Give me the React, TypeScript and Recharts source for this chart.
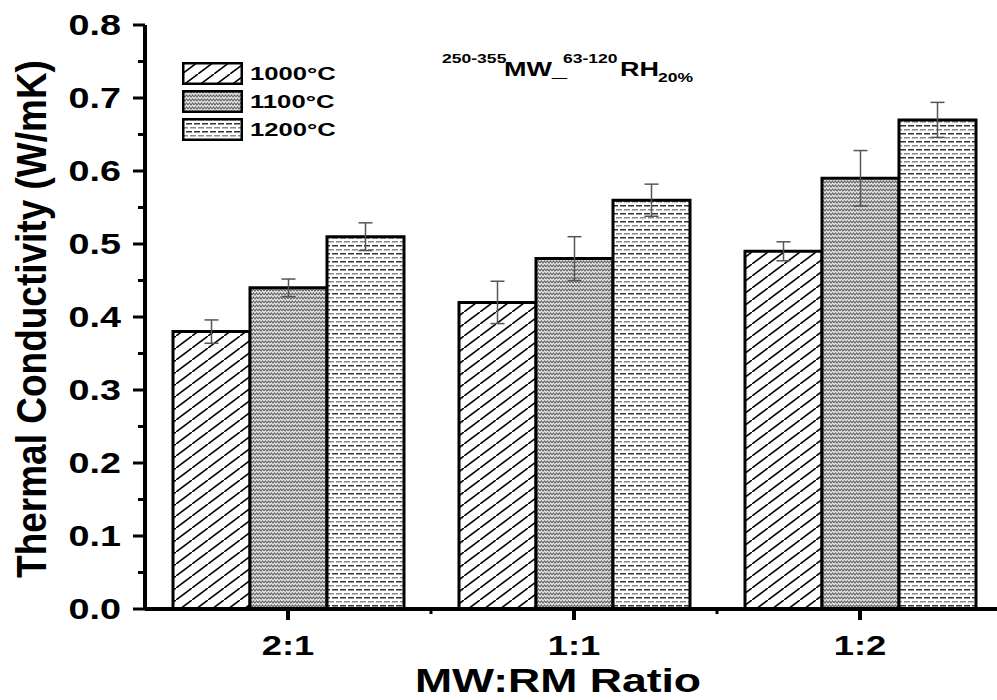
import { Bar, BarChart, ErrorBar, Label, Legend, XAxis, YAxis } from 'recharts'

const RATIOS = ['2:1', '1:1', '1:2']
const K_1000 = [0.38, 0.42, 0.49]
const K_1100 = [0.44, 0.48, 0.59]
const K_1200 = [0.51, 0.56, 0.67]
const ERR_1000 = [0.016, 0.029, 0.013]
const ERR_1100 = [0.012, 0.03, 0.038]
const ERR_1200 = [0.019, 0.022, 0.024]
const Y_TICKS = [0, 0.05, 0.1, 0.15, 0.2, 0.25, 0.3, 0.35, 0.4, 0.45, 0.5, 0.55, 0.6, 0.65, 0.7, 0.75, 0.8]

const FONT = '"Liberation Sans", Arial, sans-serif'
const SX = 1.35 // the source image is stretched sideways

const data = RATIOS.map((ratio, i) => ({
    ratio,
    k1000: K_1000[i],
    k1100: K_1100[i],
    k1200: K_1200[i],
    e1000: ERR_1000[i],
    e1100: ERR_1100[i],
    e1200: ERR_1200[i],
}))

const PATTERN_OF: Record<string, string> = {
    k1000: 'pat1000',
    k1100: 'pat1100',
    k1200: 'pat1200',
}

function YTick(props: any) {
    const { x, y, payload } = props
    const major = Math.round(payload.value * 100) % 10 === 0
    return (
        <g>
            <line x1={x - (major ? 12 : 7)} x2={x} y1={y} y2={y} stroke="#000" strokeWidth={3} />
            {major && (
                <text
                    transform={`translate(${x - 24},${y}) scale(1.3,1)`}
                    textAnchor="end"
                    dominantBaseline="central"
                    fontFamily={FONT}
                    fontWeight={700}
                    fontSize={29}
                    fill="#000"
                >
                    {payload.value.toFixed(1)}
                </text>
            )}
        </g>
    )
}

function XTick(props: any) {
    const { x, y, payload } = props
    const half = payload.offset || 0
    return (
        <g>
            <line x1={x} x2={x} y1={y} y2={y + 11} stroke="#000" strokeWidth={4} />
            {half > 0 && (
                <line x1={x + half} x2={x + half} y1={y} y2={y + 5} stroke="#000" strokeWidth={3} />
            )}
            <text
                transform={`translate(${x},${y + 46}) scale(${SX},1)`}
                textAnchor="middle"
                fontFamily={FONT}
                fontWeight={700}
                fontSize={27}
                fill="#000"
            >
                {payload.value}
            </text>
        </g>
    )
}

function YTitle(props: any) {
    const vb = props.viewBox
    const cx = vb.x + 31
    const cy = vb.y + vb.height / 2 + 2
    return (
        <text
            transform={`translate(${cx},${cy}) scale(1.15,1) rotate(-90)`}
            textAnchor="middle"
            dominantBaseline="central"
            fontFamily={FONT}
            fontWeight={700}
            fontSize={37}
            fill="#000"
        >
            Thermal Conductivity (W/mK)
        </text>
    )
}

function XTitle(props: any) {
    const vb = props.viewBox
    return (
        <text
            transform={`translate(${vb.x + vb.width / 2 - 16},${vb.y + 83}) scale(${SX},1)`}
            textAnchor="middle"
            fontFamily={FONT}
            fontWeight={700}
            fontSize={33}
            fill="#000"
        >
            MW:RM Ratio
        </text>
    )
}

function LegendBox(props: any) {
    const { payload } = props
    return (
        <div>
            {(payload || []).map((entry: any) => (
                <div
                    key={entry.value}
                    style={{ display: 'flex', alignItems: 'center', height: 23, marginBottom: 5 }}
                >
                    <svg width={61} height={23}>
                        <rect
                            x={1.25}
                            y={1.25}
                            width={58.5}
                            height={20.5}
                            fill={`url(#${PATTERN_OF[entry.dataKey]})`}
                            stroke="#000"
                            strokeWidth={2.5}
                        />
                    </svg>
                    <span
                        style={{
                            marginLeft: 7,
                            fontFamily: FONT,
                            fontWeight: 700,
                            fontSize: 19,
                            display: 'inline-block',
                            transform: `scaleX(${SX})`,
                            transformOrigin: 'left center',
                            color: '#000',
                            lineHeight: '23px',
                        }}
                    >
                        {entry.value}
                    </span>
                </div>
            ))}
        </div>
    )
}

function Txt({ x, y, size, children }: any) {
    return (
        <text
            transform={`translate(${x},${y}) scale(${SX},1)`}
            fontFamily={FONT}
            fontWeight={700}
            fontSize={size}
            fill="#000"
        >
            {children}
        </text>
    )
}

export default function App() {
    return (
        <div
            style={{
                position: 'fixed',
                left: 0,
                top: 0,
                width: 997,
                height: 700,
                overflow: 'hidden',
                background: '#fff',
                fontFamily: FONT,
            }}
        >
            <BarChart
                width={1003}
                height={700}
                data={data}
                margin={{ top: 25, right: 0, bottom: 0, left: 0 }}
                barCategoryGap={28}
                barGap={0}
            >
                <defs>
                    <pattern id="pat1000" patternUnits="userSpaceOnUse" width={16} height={12}>
                        <rect width={16} height={12} fill="#fff" />
                        <path d="M-4,15 L20,-3" stroke="#000" strokeWidth={1.6} />
                    </pattern>
                    <pattern id="pat1100" patternUnits="userSpaceOnUse" width={6} height={4}>
                        <rect width={6} height={4} fill="#e2e2e2" />
                        <path d="M0,3 L1.5,1 L3,3 L4.5,1 L6,3" stroke="#666" strokeWidth={1.1} fill="none" />
                    </pattern>
                    <pattern id="pat1200" patternUnits="userSpaceOnUse" width={8} height={8}>
                        <rect width={8} height={8} fill="#fff" />
                        <rect x={0} y={1} width={6} height={1.5} fill="#8a8a8a" />
                        <rect x={4} y={5} width={6} height={1.5} fill="#333" />
                        <rect x={-4} y={5} width={6} height={1.5} fill="#333" />
                    </pattern>
                </defs>
                <XAxis
                    dataKey="ratio"
                    height={91}
                    interval={0}
                    axisLine={{ stroke: '#000', strokeWidth: 4 }}
                    tickLine={false}
                    tickSize={0}
                    tickMargin={0}
                    tick={(p: any) => <XTick {...p} />}
                >
                    <Label content={XTitle} />
                </XAxis>
                <YAxis
                    width={145}
                    domain={[0, 0.8]}
                    ticks={Y_TICKS}
                    interval={0}
                    axisLine={{ stroke: '#000', strokeWidth: 4 }}
                    tickLine={false}
                    tickSize={0}
                    tickMargin={0}
                    tick={(p: any) => <YTick {...p} />}
                >
                    <Label content={YTitle} />
                </YAxis>
                <Legend
                    layout="horizontal"
                    verticalAlign="middle"
                    align="center"
                    content={LegendBox}
                    wrapperStyle={{ position: 'absolute', left: 182, top: 62, width: 'auto', height: 'auto' }}
                />
                <Bar dataKey="k1000" name="1000°C" fill="url(#pat1000)" stroke="#000" strokeWidth={3} isAnimationActive={false}>
                    <ErrorBar dataKey="e1000" direction="y" width={7} stroke="#555" strokeWidth={1.5} />
                </Bar>
                <Bar dataKey="k1100" name="1100°C" fill="url(#pat1100)" stroke="#000" strokeWidth={3} isAnimationActive={false}>
                    <ErrorBar dataKey="e1100" direction="y" width={7} stroke="#555" strokeWidth={1.5} />
                </Bar>
                <Bar dataKey="k1200" name="1200°C" fill="url(#pat1200)" stroke="#000" strokeWidth={3} isAnimationActive={false}>
                    <ErrorBar dataKey="e1200" direction="y" width={7} stroke="#555" strokeWidth={1.5} />
                </Bar>
                <Txt x={442} y={63} size={13}>250-355</Txt>
                <Txt x={504} y={76} size={20}>MW_</Txt>
                <Txt x={563} y={63} size={13}>63-120</Txt>
                <Txt x={620} y={76} size={20}>RH</Txt>
                <Txt x={658} y={82} size={13}>20%</Txt>
            </BarChart>
        </div>
    )
}
